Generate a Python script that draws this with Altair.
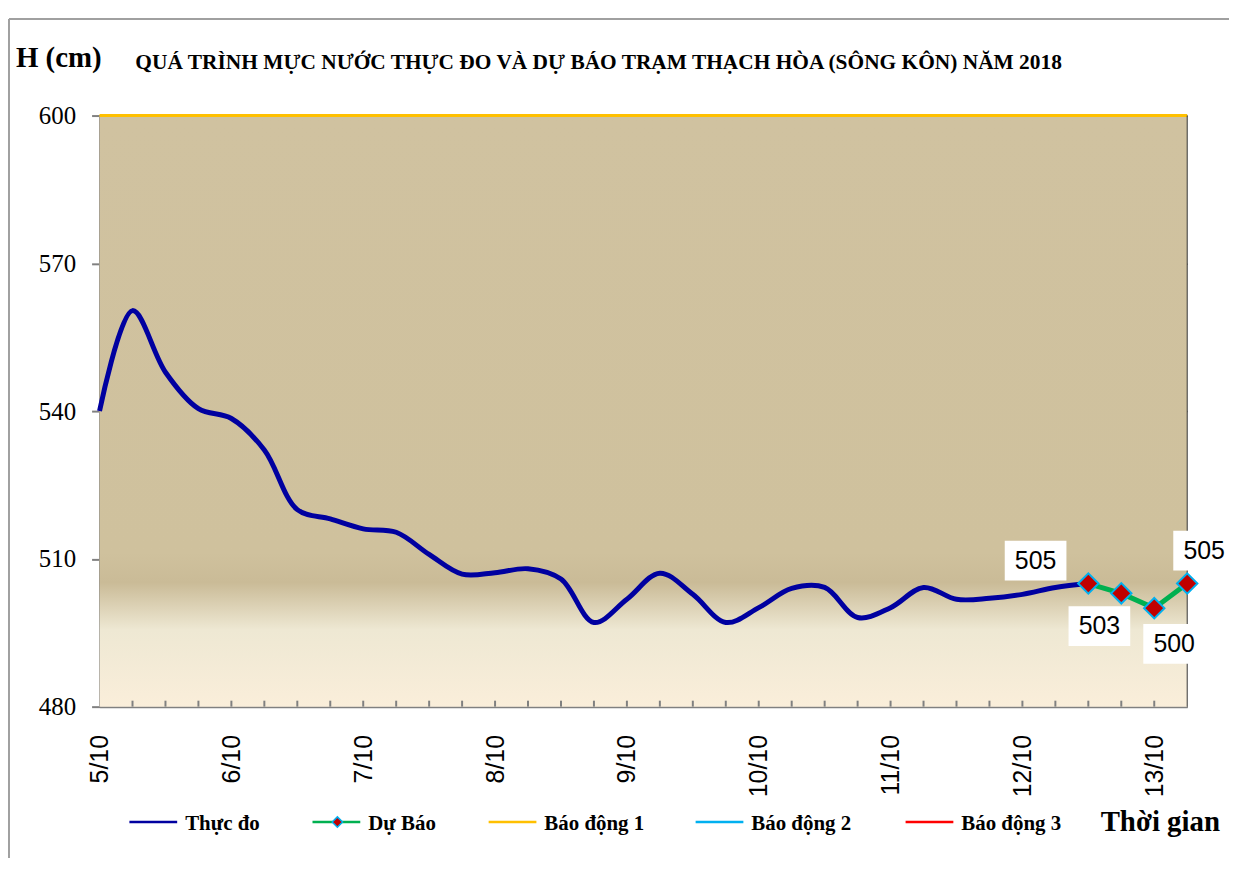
import altair as alt
import pandas as pd

# ---------------- data ----------------
day_labels = ["5/10", "6/10", "7/10", "8/10", "9/10", "10/10", "11/10", "12/10", "13/10"]
steps_per_day = 4  # 6-hourly observations
actual_steps = list(range(31))
actual_values = [540, 560.4, 547.9, 540.5, 538.5, 532.1, 520.0, 518.1, 516.1, 515.4,
                 510.9, 506.9, 507.2, 508.0, 505.9, 497.1, 501.8, 507.1, 502.8, 497.1,
                 500.1, 504.0, 504.2, 498.1, 500.1, 504.2, 501.8, 502.0, 502.8, 504.2, 505.0]
forecast_steps = [30, 31, 32, 33]
forecast_values = [505, 503, 500, 505]
alarm_levels = [600]
y_ticks = [480, 510, 540, 570, 600]
legend_names = ["Thực đo", "Dự Báo", "Báo động 1", "Báo động 2", "Báo động 3"]
title_text = "QUÁ TRÌNH MỰC NƯỚC THỰC ĐO VÀ DỰ BÁO TRẠM THẠCH HÒA (SÔNG KÔN) NĂM 2018"

# ---------------- layout / style ----------------
W, H = 1093, 594
C_ACTUAL = "#0000A0"
C_FC = "#00B050"
legend_colors = [C_ACTUAL, C_FC, "#FFC000", "#00B0F0", "#FF0000"]
legend_line_x = [30, 214, 391, 599, 810]
legend_y = 710
label_offsets = [(-53, -23), (-22, 33), (20, 36), (17, -33)]
SERIF = "Liberation Serif"
SANS = "Liberation Sans"

df_act = pd.DataFrame({"t": actual_steps, "h": actual_values})
df_fc = pd.DataFrame({"t": forecast_steps, "h": forecast_values})
df_ticks = pd.DataFrame({"t": list(range(1, 33))})
df_alarm = pd.DataFrame({"h": alarm_levels})

xscale = alt.Scale(domain=[0, 33], nice=False, zero=False)
yscale = alt.Scale(domain=[480, 600], nice=False, zero=False)

label_arr = "[" + ",".join("'%s'" % d for d in day_labels) + "]"
xaxis = alt.Axis(values=list(range(0, 33, steps_per_day)),
                 labelExpr=label_arr + "[datum.value/4]")
yaxis = alt.Axis(values=y_ticks)

X = lambda: alt.X("t:Q", scale=xscale, axis=xaxis)
Y = lambda: alt.Y("h:Q", scale=yscale, axis=yaxis)

grad = alt.Gradient(gradient="linear", x1=0, x2=0, y1=0, y2=1,
                    stops=[alt.GradientStop(color="#D0C2A0", offset=0),
                           alt.GradientStop(color="#CFC19D", offset=0.74),
                           alt.GradientStop(color="#CABB97", offset=0.79),
                           alt.GradientStop(color="#EEE8D3", offset=0.87),
                           alt.GradientStop(color="#FAEEDA", offset=1)])

one = pd.DataFrame({"a": [0]})

bg = alt.Chart(one).mark_rect(fill=grad).encode(
    x=alt.value(0), x2=alt.value(W), y=alt.value(0), y2=alt.value(H))

base_axes = alt.Chart(df_act).mark_line(opacity=0).encode(x=X(), y=Y())

ticks = alt.Chart(df_ticks).mark_rule(color="#808080", strokeWidth=2).encode(
    x=X(), y=alt.value(H), y2=alt.value(H - 6))

right_border = alt.Chart(one).mark_rule(color="#333333", strokeWidth=1).encode(
    x=alt.value(W), y=alt.value(0), y2=alt.value(H))

alarm = alt.Chart(df_alarm).mark_rule(color="#FFC000", strokeWidth=3).encode(y=Y())

act_line = alt.Chart(df_act).mark_line(color=C_ACTUAL, strokeWidth=5,
                                       interpolate="catmull-rom").encode(x=X(), y=Y())

fc_line = alt.Chart(df_fc).mark_line(color=C_FC, strokeWidth=5).encode(x=X(), y=Y())

fc_pts = alt.Chart(df_fc).mark_point(shape="diamond", filled=True, fill="#C00000",
                                     stroke="#00B0F0", strokeWidth=2, size=420,
                                     opacity=1).encode(x=X(), y=Y())

layers = [bg, base_axes, ticks, alarm, right_border, act_line, fc_line, fc_pts]

# data labels with white boxes
for i, (dx, dy) in enumerate(label_offsets):
    d = df_fc.iloc[[i]]
    box = alt.Chart(d).mark_rect(color="white", xOffset=dx - 31, x2Offset=dx + 31,
                                 yOffset=dy - 20, y2Offset=dy + 20).encode(
        x=X(), x2="t:Q", y=Y(), y2="h:Q")
    txt = alt.Chart(d).mark_text(font=SANS, fontSize=25, color="black", dx=dx, dy=dy,
                                 baseline="middle", align="center").encode(
        x=X(), y=Y(), text=alt.Text("h:Q", format="d"))
    layers += [box, txt]

# titles
layers.append(alt.Chart(one).mark_text(text="H (cm)", font=SERIF, fontSize=29,
                                       fontWeight="bold", align="left", baseline="alphabetic",
                                       color="black").encode(
    x=alt.value(-84), y=alt.value(-49)))
layers.append(alt.Chart(one).mark_text(text=title_text, font=SERIF, fontSize=21.5,
                                       fontWeight="bold", align="left", baseline="alphabetic",
                                       color="black").encode(
    x=alt.value(36), y=alt.value(-47)))

# outer frame (left and top)
layers.append(alt.Chart(one).mark_rule(color="#A0A0A0", strokeWidth=2).encode(
    x=alt.value(-91), y=alt.value(-97), y2=alt.value(760)))
layers.append(alt.Chart(one).mark_rule(color="#A0A0A0", strokeWidth=2).encode(
    x=alt.value(-91), x2=alt.value(1140), y=alt.value(-97)))

# custom legend
for name, col, lx in zip(legend_names, legend_colors, legend_line_x):
    layers.append(alt.Chart(one).mark_rule(color=col, strokeWidth=2.5).encode(
        x=alt.value(lx), x2=alt.value(lx + 48), y=alt.value(legend_y)))
    if name == "Dự Báo":
        layers.append(alt.Chart(one).mark_point(shape="diamond", filled=True, fill="#C00000",
                                                stroke="#00B0F0", strokeWidth=1.5, size=110,
                                                opacity=1).encode(
            x=alt.value(lx + 25), y=alt.value(legend_y)))
    layers.append(alt.Chart(one).mark_text(text=name, font=SERIF, fontSize=21,
                                           fontWeight="bold", align="left",
                                           baseline="alphabetic", color="black").encode(
        x=alt.value(lx + 56), y=alt.value(legend_y + 8)))

layers.append(alt.Chart(one).mark_text(text="Thời gian", font=SERIF, fontSize=29,
                                       fontWeight="bold", align="left",
                                       baseline="alphabetic", color="black").encode(
    x=alt.value(1006), y=alt.value(legend_y + 9)))

chart = alt.layer(*layers).properties(
    width=W, height=H,
    autosize=alt.AutoSizeParams(type="none"),
    padding={"left": 92, "top": 106, "right": 42, "bottom": 150},
    background="white",
).configure_view(stroke=None).configure_axisX(
    labelAngle=270, labelAlign="right", labelBaseline="middle",
    labelFont=SANS, labelFontSize=25, labelColor="black", labelFontWeight="normal",
    labelPadding=28, ticks=False, grid=False, labelOverlap=False,
    domainColor="#808080", domainWidth=2, title=None,
).configure_axisY(
    labelFont=SERIF, labelFontSize=25, labelColor="black", labelFontWeight="normal",
    labelPadding=16, tickSize=8, tickColor="#808080", tickWidth=2,
    domainColor="#808080", domainWidth=2, grid=True, gridColor="#868686",
    gridWidth=1.5, title=None, labelOverlap=False,
)

chart.save("out.html", embed_options={"renderer": "svg", "actions": False})
